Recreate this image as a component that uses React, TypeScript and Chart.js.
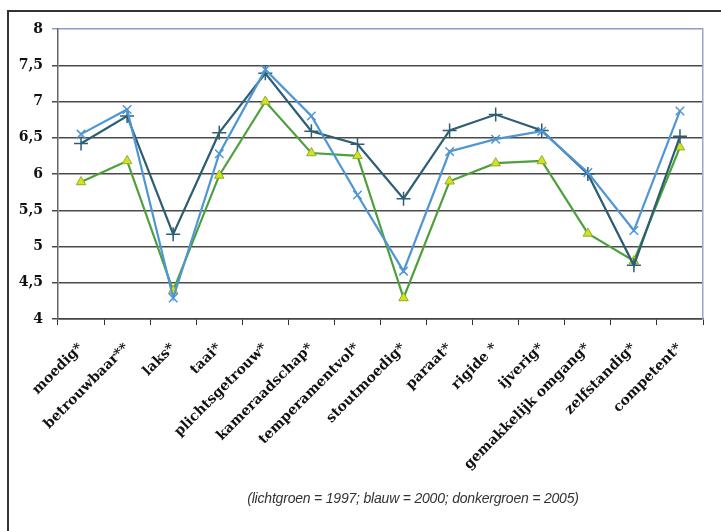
import React, { useEffect, useRef } from "react";
import { Chart, registerables } from "chart.js";

Chart.register(...registerables);

const categories = [
  "moedig*",
  "betrouwbaar**",
  "laks*",
  "taai*",
  "plichtsgetrouw*",
  "kameraadschap*",
  "temperamentvol*",
  "stoutmoedig*",
  "paraat*",
  "rigide *",
  "ijverig*",
  "gemakkelijk omgang*",
  "zelfstandig*",
  "competent*",
];

const values1997 = [5.89, 6.18, 4.39, 5.98, 7.0, 6.29, 6.25, 4.29, 5.9, 6.15, 6.18, 5.18, 4.8, 6.37];
const values2000 = [6.55, 6.89, 4.29, 6.28, 7.44, 6.8, 5.71, 4.66, 6.31, 6.48, 6.59, 6.02, 5.22, 6.87];
const values2005 = [6.42, 6.8, 5.17, 6.57, 7.39, 6.59, 6.41, 5.66, 6.6, 6.82, 6.6, 6.0, 4.74, 6.52];

const yMin = 4;
const yMax = 8;
const yStep = 0.5;

const caption = "(lichtgroen = 1997; blauw = 2000; donkergroen = 2005)";

export default function App() {
  const canvasRef = useRef<HTMLCanvasElement | null>(null);

  useEffect(() => {
    if (!canvasRef.current) return;
    const chart = new Chart(canvasRef.current, {
      type: "line",
      data: {
        labels: categories,
        datasets: [
          {
            label: "2000",
            data: values2000,
            borderColor: "#4f96d4",
            backgroundColor: "#4f96d4",
            borderWidth: 2.2,
            pointStyle: "crossRot",
            pointRadius: 6,
            pointBorderWidth: 1.5,
            pointBorderColor: "#4f96d4",
            tension: 0,
          },
          {
            label: "2005",
            data: values2005,
            borderColor: "#2d5e72",
            backgroundColor: "#2d5e72",
            borderWidth: 2.2,
            pointStyle: "cross",
            pointRadius: 7,
            pointBorderWidth: 1.5,
            pointBorderColor: "#2d5e72",
            tension: 0,
          },
          {
            label: "1997",
            data: values1997,
            borderColor: "#4ea03c",
            backgroundColor: "#d6e01e",
            borderWidth: 2.2,
            pointStyle: "triangle",
            pointRadius: 5.5,
            pointBorderWidth: 1,
            pointBorderColor: "#8ab030",
            tension: 0,
          },
        ],
      },
      options: {
        animation: false,
        responsive: false,
        maintainAspectRatio: false,
        layout: { padding: { left: 10, right: 18, top: 29, bottom: 46 } },
        plugins: {
          legend: { display: false },
          tooltip: { enabled: false },
          title: { display: false },
        },
        scales: {
          x: {
            type: "category",
            offset: true,
            grid: {
              offset: true,
              drawOnChartArea: false,
              drawTicks: true,
              tickLength: 6,
              color: "#333333",
              lineWidth: 1,
            },
            border: { display: true, color: "#444444", width: 1.5 },
            ticks: {
              autoSkip: false,
              maxRotation: 45,
              minRotation: 45,
              padding: 15,
              color: "#111111",
              font: { family: '"DejaVu Serif", serif', size: 14, weight: "bold" },
            },
            afterFit: (scale: any) => {
              scale.height = 166;
            },
          },
          y: {
            type: "linear",
            min: yMin,
            max: yMax,
            ticks: {
              stepSize: yStep,
              padding: 9,
              color: "#111111",
              font: { family: '"DejaVu Serif", serif', size: 14, weight: "bold" },
              callback: (v: any) => String(v).replace(".", ","),
            },
            grid: {
              color: (ctx: any) => (ctx.tick && ctx.tick.value === yMax ? "#8d9cc6" : "#4a4a4a"),
              lineWidth: 1.5,
              tickLength: 6,
            },
            border: { display: true, color: "#666666", width: 1.5 },
            afterFit: (scale: any) => {
              scale.width = 48;
            },
          },
          y2: {
            type: "linear",
            position: "right",
            min: yMin,
            max: yMax,
            ticks: { display: false },
            grid: { drawOnChartArea: false, drawTicks: false },
            border: { display: true, color: "#9aa6cc", width: 1.5 },
            afterFit: (scale: any) => {
              scale.width = 0;
            },
          },
        },
      },
    });
    return () => chart.destroy();
  }, []);

  return (
    <div style={{ position: "fixed", left: 0, top: 0, width: 721, height: 531, background: "#ffffff", overflow: "hidden" }}>
      <div style={{ position: "absolute", left: 8, top: 10, width: 713, height: 2, background: "#333333" }} />
      <div style={{ position: "absolute", left: 7, top: 10, width: 2, height: 521, background: "#333333" }} />
      <canvas ref={canvasRef} width={721} height={531} style={{ position: "absolute", left: 0, top: 0 }} />
      <div
        style={{
          position: "absolute",
          left: 0,
          width: 826,
          top: 490,
          textAlign: "center",
          fontFamily: '"Liberation Sans", sans-serif',
          fontStyle: "italic",
          fontSize: 14,
          letterSpacing: -0.2,
          color: "#333333",
          whiteSpace: "nowrap",
        }}
      >
        {caption}
      </div>
    </div>
  );
}
